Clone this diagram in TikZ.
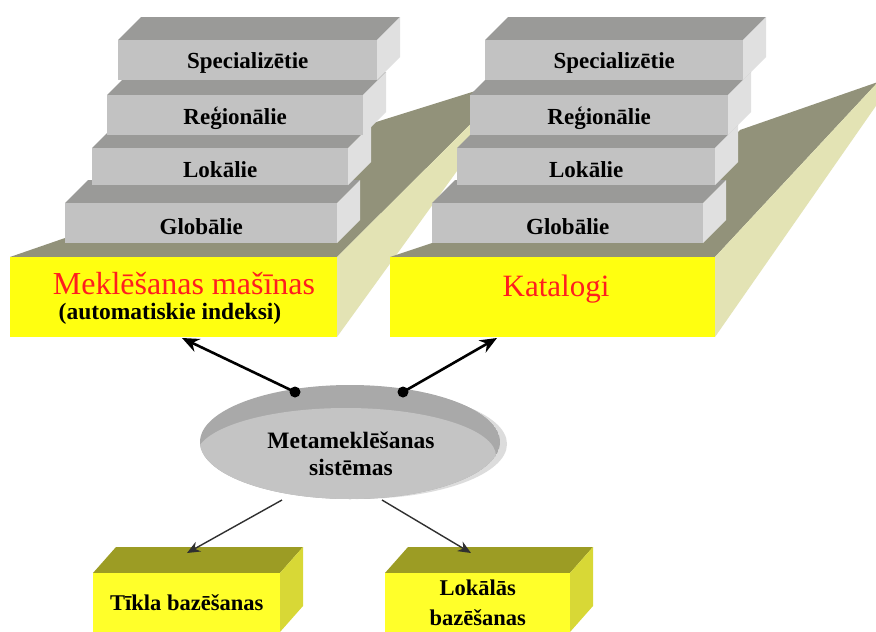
\documentclass[tikz,border=0pt]{standalone}
\usepackage{fontspec}
\setmainfont{Liberation Serif}
\usetikzlibrary{arrows.meta}
\definecolor{platFront}{HTML}{FFFF10}
\definecolor{platTop}{HTML}{92927A}
\definecolor{platSide}{HTML}{E3E3B4}
\definecolor{blkFront}{HTML}{C2C2C2}
\definecolor{blkTop}{HTML}{9A9A98}
\definecolor{blkSide}{HTML}{E0E0E0}
\definecolor{boxFront}{HTML}{FFFF2A}
\definecolor{boxTop}{HTML}{9C9C24}
\definecolor{boxSide}{HTML}{D8D836}
\definecolor{ellTop}{HTML}{A9A9A9}
\definecolor{ellFace}{HTML}{C4C4C4}
\definecolor{ellSide}{HTML}{DCDCDC}
\definecolor{redText}{HTML}{FF1E1E}
\definecolor{thinArr}{HTML}{303030}
\tikzset{
  blkfront/.style={fill=blkFront, inner sep=0pt, anchor=north west,
    font=\fontsize{23}{26}\selectfont\bfseries},
  platfront/.style={fill=platFront, inner sep=0pt, anchor=north west},
  boxfront/.style={fill=boxFront, inner sep=0pt, anchor=north west, align=center,
    font=\fontsize{22.5}{30}\selectfont\bfseries},
  redlabel/.style={text=redText, inner sep=0pt, font=\fontsize{32}{34}\selectfont},
  blacklabel/.style={inner sep=0pt, font=\fontsize{23.5}{26}\selectfont\bfseries},
  bigarr/.style={line width=2.6pt, -{Stealth[length=17pt,width=14pt]}},
  smallarr/.style={line width=1.4pt, draw=thinArr, -{Stealth[length=13pt,width=11pt]}},
}
\newcommand\drawblock[6]{%
  \fill[blkTop] (#2,#3) -- (#4,#3) -- (#4+23,#3-23) -- (#2+23,#3-23) -- cycle;
  \fill[blkSide] (#4,#3) -- (#4,#5) -- (#4+23,#5-23) -- (#4+23,#3-23) -- cycle;
  \node[blkfront, minimum width={(#4-#2)*1pt}, minimum height={(#5-#3)*1pt}] (#1) at (#2,#3) {\raisebox{-3pt}[\height][\depth]{#6}};
}
\newcommand\drawbox[6]{%
  \fill[boxTop] (#2,#3) -- (#4,#3) -- (#4+23,#3-26) -- (#2+23,#3-26) -- cycle;
  \fill[boxSide] (#4,#3) -- (#4,#5) -- (#4+23,#5-26) -- (#4+23,#3-26) -- cycle;
  \node[boxfront, minimum width={(#4-#2)*1pt}, minimum height={(#5-#3)*1pt}] (#1) at (#2,#3) {#6};
}
\begin{document}
\begin{tikzpicture}[x=1pt,y=-1pt]
\useasboundingbox (0,0) rectangle (876,632);
\path[clip] (0,0) rectangle (876,632);
\fill[white] (0,0) rectangle (876,632);

% ---- left platform
\fill[platTop] (10,257) -- (65,238) -- (100,190) -- (373,123) -- (517,78) -- (337,257) -- cycle;
\fill[platSide] (337,257) -- (517,78) -- (517,88) -- (337,337) -- cycle;
\node[platfront, minimum width=327pt, minimum height=80pt] (mekF) at (10,257) {};
\node[redlabel] (mekT) at (184,284) {Meklēšanas mašīnas};
\node[blacklabel] (mekS) at (170,314) {(automatiskie indeksi)};

% ---- left stack
\drawblock{lG}{65}{203}{337}{243}{Globālie}
\drawblock{lL}{92}{148}{348}{185}{Lokālie}
\drawblock{lR}{107}{95}{363}{135}{Reģionālie}
\drawblock{lS}{118}{40}{377}{80}{Specializētie}

% ---- right platform
\fill[platTop] (390,257) -- (432,243) -- (470,190) -- (720,150) -- (740,130) -- (878,82) -- (715,257) -- cycle;
\fill[platSide] (715,257) -- (878,82) -- (878,103) -- (715,337) -- cycle;
\node[platfront, minimum width=325pt, minimum height=80pt] (katF) at (390,257) {};
\node[redlabel, font=\fontsize{31}{33}\selectfont] (katT) at (556,289) {Katalogi};

% ---- right stack
\drawblock{rG}{432}{203}{703}{243}{Globālie}
\drawblock{rL}{457}{148}{715}{185}{Lokālie}
\drawblock{rR}{470}{95}{728}{135}{Reģionālie}
\drawblock{rS}{485}{40}{743}{80}{Specializētie}

% ---- meta search ellipse
\fill[ellSide] (357,444) ellipse [x radius=150, y radius=55];
\begin{scope}
  \clip (350,442) ellipse [x radius=150, y radius=57];
  \fill[ellTop] (350,442) ellipse [x radius=150, y radius=57];
  \fill[ellFace] (346,456) ellipse [x radius=150, y radius=48];
\end{scope}
\node[blacklabel, align=center, font=\fontsize{23.5}{27}\selectfont\bfseries] (meta) at (351,454) {Metameklēšanas\\sistēmas};

% ---- bottom boxes
\drawbox{tikl}{93}{573}{280}{632}{Tīkla bazēšanas}
\drawbox{lokb}{385}{573}{570}{632}{Lokālās\\bazēšanas}

% ---- connectors
\coordinate (dotL) at (295,392);
\coordinate (dotR) at (403,392);
\coordinate (tipL) at (182,338);
\coordinate (tipR) at (497,338);
\draw[bigarr] (dotL) -- (tipL);
\draw[bigarr] (dotR) -- (tipR);
\fill (dotL) circle (5.5);
\fill (dotR) circle (5.5);

\coordinate (eL) at (282,500);
\coordinate (eR) at (382,500);
\coordinate (bL) at (187,553);
\coordinate (bR) at (471,553);
\draw[smallarr] (eL) -- (bL);
\draw[smallarr] (eR) -- (bR);
\end{tikzpicture}
\end{document}
